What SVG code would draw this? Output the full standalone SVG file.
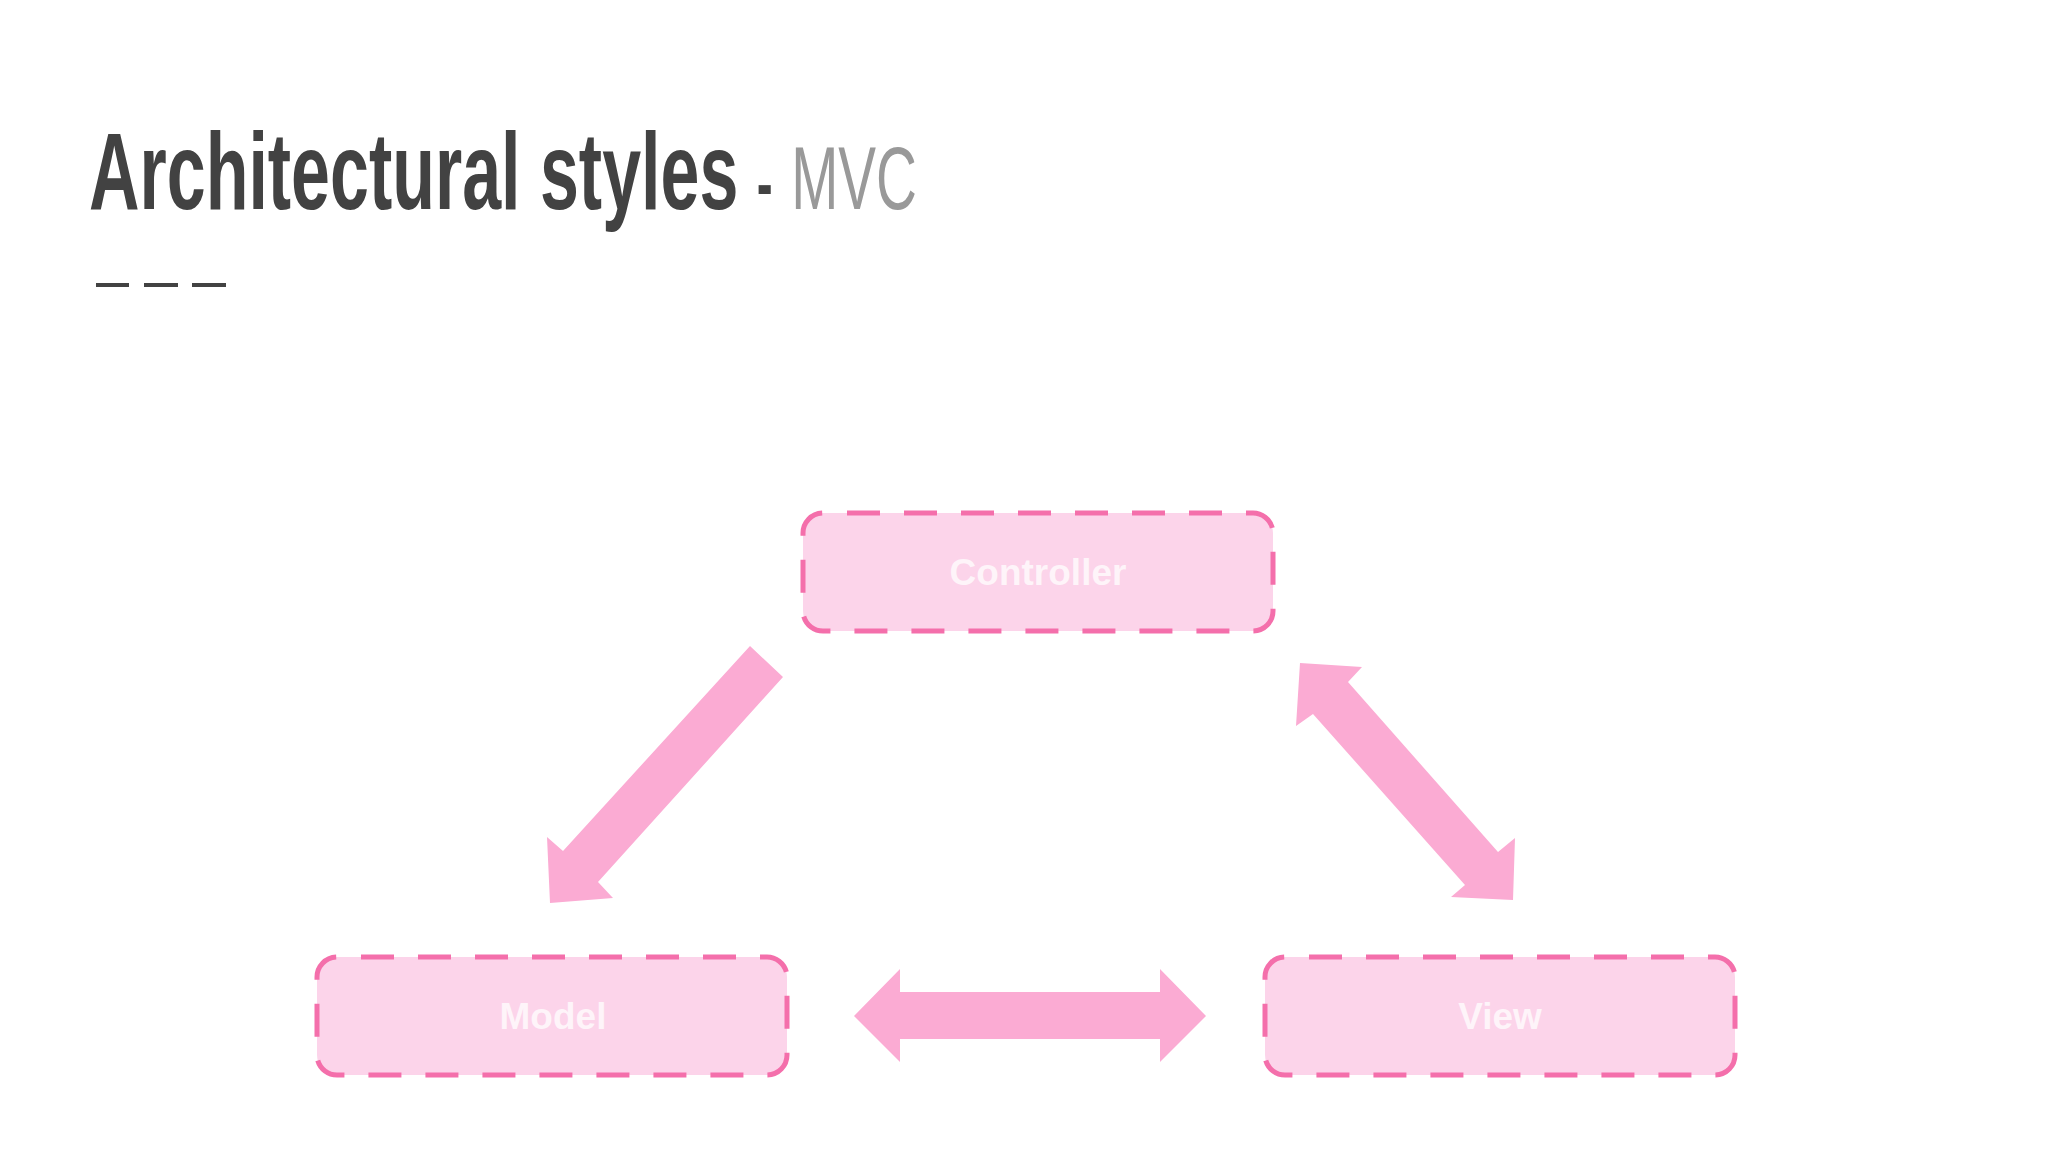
<svg xmlns="http://www.w3.org/2000/svg" width="2048" height="1152" viewBox="0 0 2048 1152">
<style>
.title{font-family:"Liberation Sans",Arial,sans-serif;font-weight:bold;fill:#424242}
.sub{font-weight:normal;fill:#999999}
.box{fill:#fcd4ea;stroke:#f46fab;stroke-width:5;stroke-dasharray:33 24;stroke-dashoffset:33}
.lbl{font-family:"Liberation Sans",Arial,sans-serif;font-weight:bold;font-size:37px;fill:#ffffff;fill-opacity:0.75;text-anchor:middle}
.arrow{fill:#fbabd3}
</style>
<rect width="2048" height="1152" fill="#ffffff"/>
<g id="title">
<text class="title" transform="translate(89,209) scale(0.636,1)" x="0" y="0"><tspan font-size="110">Architectural styles</tspan><tspan x="1050" font-size="75">-</tspan><tspan class="sub" x="1104" font-size="89">MVC</tspan></text>
<g fill="#424242">
<rect x="96" y="283" width="33" height="4"/>
<rect x="144" y="283" width="34" height="4"/>
<rect x="192" y="283" width="34" height="4"/>
</g>
</g>
<g id="connectors">
<polygon class="arrow" points="750,646 783,677 598,882 613,898 550,903 547,837 563,851"/>
<polygon class="arrow" points="1300,663 1362,667 1348,682 1498,852 1515,838 1513,900 1451,897 1465,885 1313,714 1296,726"/>
<polygon class="arrow" points="854,1016 900,969 900,992 1160,992 1160,969 1206,1016 1160,1062 1160,1039 900,1039 900,1062"/>
</g>
<g id="controller">
<rect class="box" x="803" y="513" width="470" height="118" rx="20" ry="20"/>
<text class="lbl" x="1038" y="585">Controller</text>
</g>
<g id="model">
<rect class="box" x="317" y="957" width="470" height="118" rx="20" ry="20"/>
<text class="lbl" x="553" y="1029">Model</text>
</g>
<g id="view">
<rect class="box" x="1265" y="957" width="470" height="118" rx="20" ry="20"/>
<text class="lbl" x="1500" y="1029">View</text>
</g>
</svg>
